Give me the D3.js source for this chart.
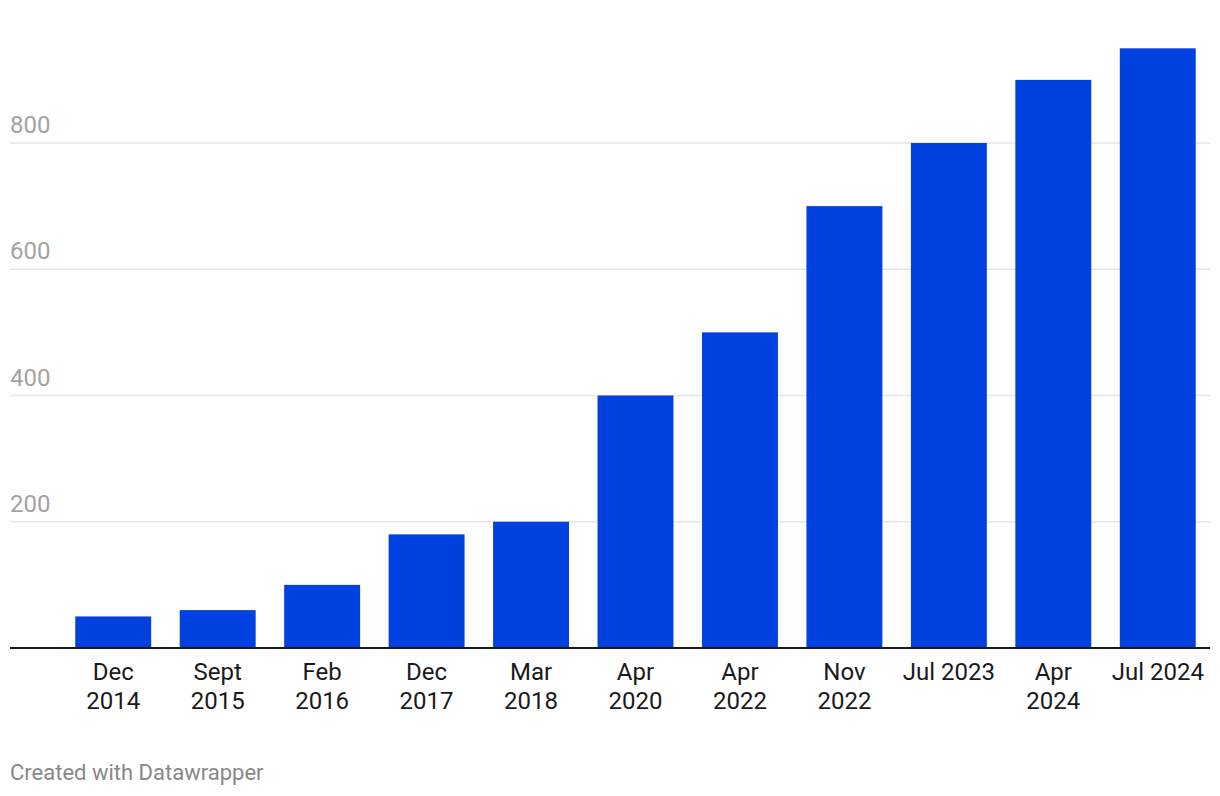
<!DOCTYPE html>
<html><head><meta charset="utf-8">
<script src="https://cdn.jsdelivr.net/npm/d3@7"></script>
<style>body{margin:0;background:#fff;font-family:Roboto,sans-serif}</style>
</head><body>
<svg id="c" width="1220" height="796"></svg>
<script>
const categories = [["Dec","2014"],["Sept","2015"],["Feb","2016"],["Dec","2017"],["Mar","2018"],["Apr","2020"],["Apr","2022"],["Nov","2022"],["Jul 2023"],["Apr","2024"],["Jul 2024"]];
const values = [50,60,100,180,200,400,500,700,800,900,950];
const yTicks = [200,400,600,800];

const svg = d3.select("#c");
const x = d3.scaleBand().domain(d3.range(categories.length)).range([61,1210]).paddingInner(0.273).paddingOuter(0.1365);
const y = d3.scaleLinear().domain([0,800]).range([648,143]);

const g = svg.append("g");
g.selectAll(".grid").data(yTicks).join("line")
  .attr("x1",10).attr("x2",1210).attr("y1",d=>y(d)).attr("y2",d=>y(d))
  .attr("stroke","#e5e5e5").attr("stroke-width",1.5);
g.selectAll(".yl").data(yTicks).join("text")
  .attr("x",10).attr("y",d=>y(d)-10).text(d=>d)
  .attr("fill","#a3a3a3").attr("font-size",24);

g.selectAll("rect").data(values).join("rect")
  .attr("x",(d,i)=>x(i)).attr("width",x.bandwidth())
  .attr("y",d=>y(d)).attr("height",d=>y(0)-y(d)).attr("fill","#0041e0");

g.append("line").attr("x1",10).attr("x2",1210).attr("y1",y(0)).attr("y2",y(0)).attr("stroke","#1a1a1a").attr("stroke-width",2);

const xl = g.selectAll(".xl").data(categories).join("text")
  .attr("text-anchor","middle").attr("font-size",24).attr("fill","#1a1a1a");
xl.each(function(d,i){
  const t=d3.select(this);
  d.forEach((s,j)=>t.append("tspan").attr("x",x(i)+x.bandwidth()/2).attr("y",680+j*29).text(s));
});

svg.append("text").attr("x",10).attr("y",780).text("Created with Datawrapper").attr("fill","#888").attr("font-size",22);
</script>
</body></html>
